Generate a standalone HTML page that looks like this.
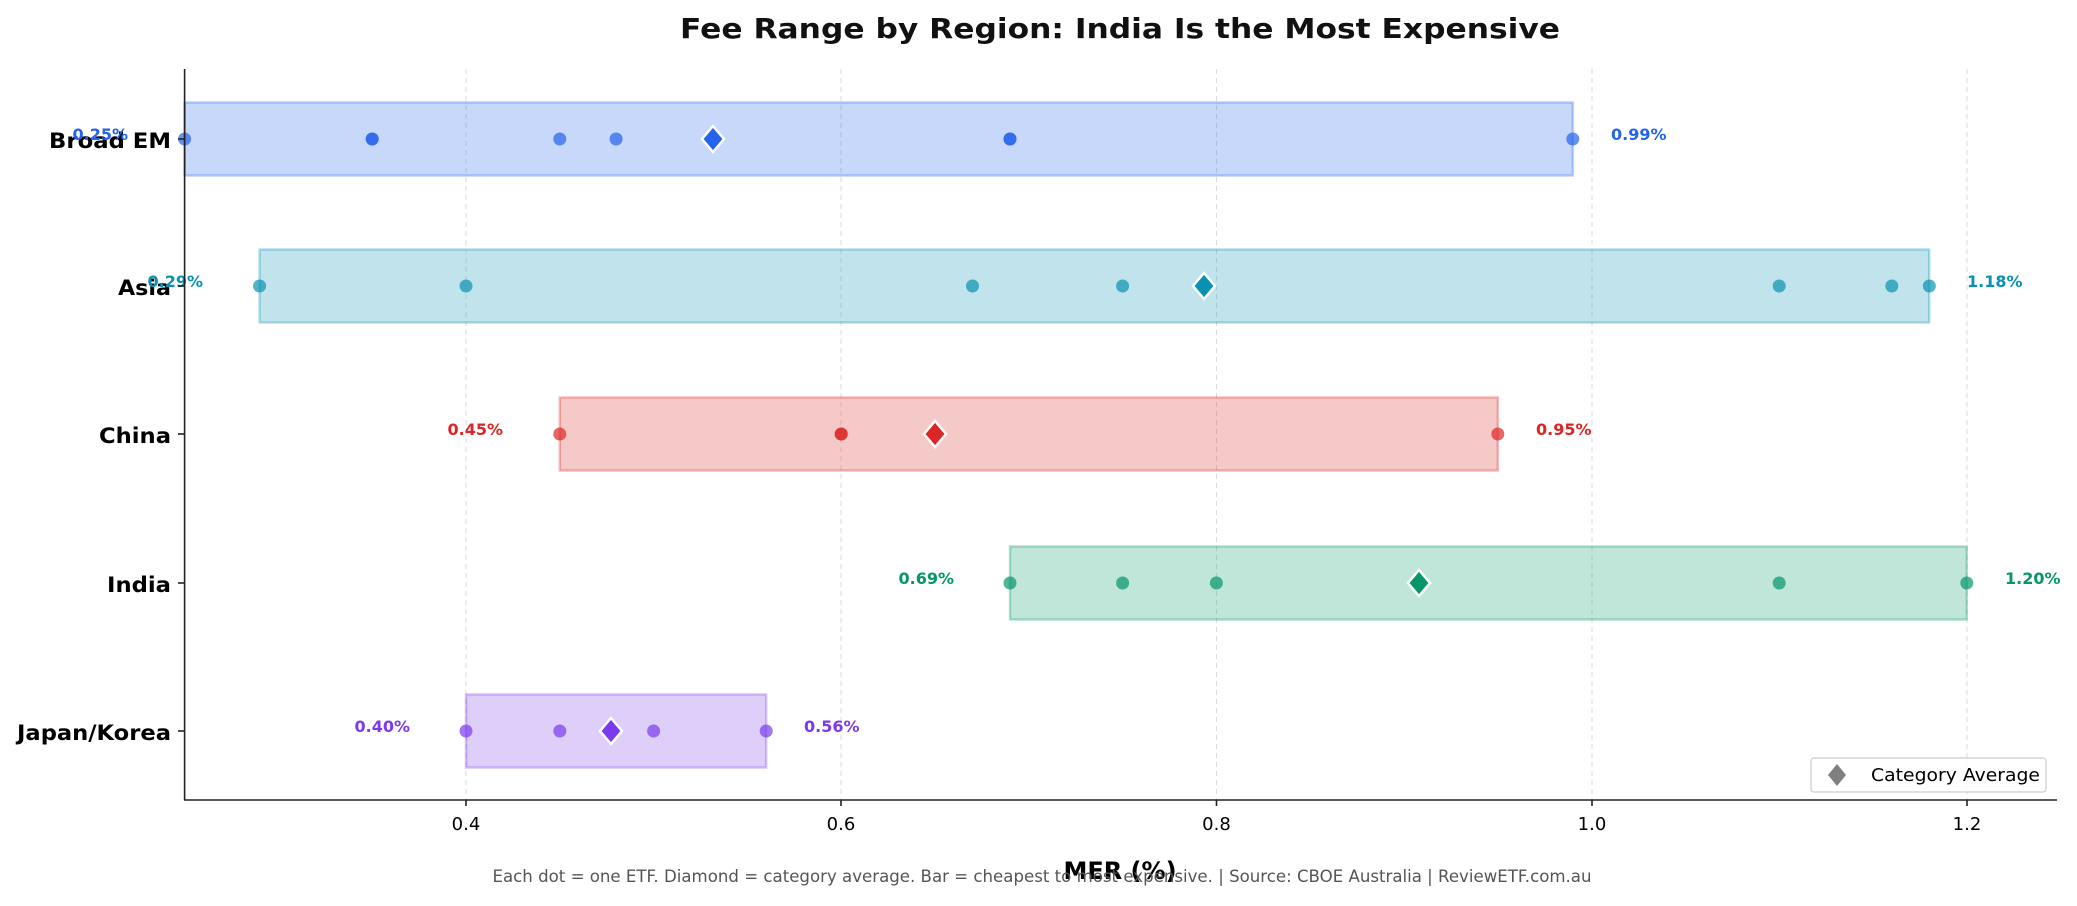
<!DOCTYPE html>
<html><head><meta charset="utf-8"><style>
body{margin:0;background:#fff;}
svg text{font-family:"DejaVu Sans","Liberation Sans",sans-serif;}
</style></head><body>
<svg width="2077" height="901" viewBox="0 0 2077 901" xmlns="http://www.w3.org/2000/svg">
<rect width="2077" height="901" fill="#fff"/>
<text x="1120" y="38" text-anchor="middle" font-size="28" font-weight="bold" fill="#111" textLength="880" lengthAdjust="spacingAndGlyphs">Fee Range by Region: India Is the Most Expensive</text>
<g stroke="#ccc" stroke-width="1" stroke-dasharray="5,4" opacity="0.7">
<line x1="466" y1="69" x2="466" y2="800"/><line x1="841" y1="69" x2="841" y2="800"/>
<line x1="1216.5" y1="69" x2="1216.5" y2="800"/><line x1="1592" y1="69" x2="1592" y2="800"/>
<line x1="1967" y1="69" x2="1967" y2="800"/>
</g>
<g stroke-width="2.5">
<rect x="184.6" y="102.5" width="1388.2" height="73" fill="#2563eb" fill-opacity="0.25" stroke="#2563eb" stroke-opacity="0.3"/>
<rect x="259.6" y="249.5" width="1669.6" height="73" fill="#0891b2" fill-opacity="0.25" stroke="#0891b2" stroke-opacity="0.3"/>
<rect x="559.8" y="397.5" width="938" height="73" fill="#dc2626" fill-opacity="0.25" stroke="#dc2626" stroke-opacity="0.3"/>
<rect x="1010" y="546.5" width="956.8" height="73" fill="#059669" fill-opacity="0.25" stroke="#059669" stroke-opacity="0.3"/>
<rect x="466" y="694.5" width="300.2" height="73" fill="#7c3aed" fill-opacity="0.25" stroke="#7c3aed" stroke-opacity="0.3"/>
</g>
<g fill="#2563eb" fill-opacity="0.7">
<circle cx="184.6" cy="139" r="6.5"/><circle cx="372.2" cy="139" r="6.5"/><circle cx="372.2" cy="139" r="6.5"/>
<circle cx="559.8" cy="139" r="6.5"/><circle cx="616.1" cy="139" r="6.5"/><circle cx="1010" cy="139" r="6.5"/><circle cx="1010" cy="139" r="6.5"/><circle cx="1572.8" cy="139" r="6.5"/>
</g>
<g fill="#0891b2" fill-opacity="0.7">
<circle cx="259.6" cy="286" r="6.5"/><circle cx="466" cy="286" r="6.5"/><circle cx="972.5" cy="286" r="6.5"/><circle cx="1122.6" cy="286" r="6.5"/>
<circle cx="1779.2" cy="286" r="6.5"/><circle cx="1891.8" cy="286" r="6.5"/><circle cx="1929.3" cy="286" r="6.5"/>
</g>
<g fill="#dc2626" fill-opacity="0.7">
<circle cx="559.8" cy="434" r="6.5"/><circle cx="841.2" cy="434" r="6.5"/><circle cx="841.2" cy="434" r="6.5"/><circle cx="1497.8" cy="434" r="6.5"/>
</g>
<g fill="#059669" fill-opacity="0.7">
<circle cx="1010" cy="583" r="6.5"/><circle cx="1122.6" cy="583" r="6.5"/><circle cx="1216.4" cy="583" r="6.5"/><circle cx="1779.2" cy="583" r="6.5"/><circle cx="1966.8" cy="583" r="6.5"/>
</g>
<g fill="#7c3aed" fill-opacity="0.7">
<circle cx="466" cy="731" r="6.5"/><circle cx="559.8" cy="731" r="6.5"/><circle cx="653.6" cy="731" r="6.5"/><circle cx="766.2" cy="731" r="6.5"/>
</g>
<g stroke="#fff" stroke-width="2.5">
<path d="M713 126 L724 139 L713 152 L702 139 Z" fill="#2563eb"/>
<path d="M1204 273 L1215 286 L1204 299 L1193 286 Z" fill="#0891b2"/>
<path d="M935 421 L946 434 L935 447 L924 434 Z" fill="#dc2626"/>
<path d="M1419 570 L1430 583 L1419 596 L1408 583 Z" fill="#059669"/>
<path d="M611 718 L622 731 L611 744 L600 731 Z" fill="#7c3aed"/>
</g>
<g font-size="21" font-weight="bold" fill="#000" text-anchor="end" lengthAdjust="spacingAndGlyphs">
<text x="171" y="148" textLength="122" lengthAdjust="spacingAndGlyphs">Broad EM</text>
<text x="171" y="295" textLength="53" lengthAdjust="spacingAndGlyphs">Asia</text>
<text x="171" y="443" textLength="72" lengthAdjust="spacingAndGlyphs">China</text>
<text x="171" y="592" textLength="64" lengthAdjust="spacingAndGlyphs">India</text>
<text x="171" y="740" textLength="154" lengthAdjust="spacingAndGlyphs">Japan/Korea</text>
</g>
<g font-size="16" font-weight="bold" text-anchor="end">
<text x="128" y="140" fill="#2563eb">0.25%</text><text x="203" y="287" fill="#0891b2">0.29%</text>
<text x="503" y="435" fill="#dc2626">0.45%</text><text x="954" y="584" fill="#059669">0.69%</text>
<text x="410" y="732" fill="#7c3aed">0.40%</text>
</g>
<g font-size="16" font-weight="bold">
<text x="1611" y="140" fill="#2563eb">0.99%</text><text x="1967" y="287" fill="#0891b2">1.18%</text>
<text x="1536" y="435" fill="#dc2626">0.95%</text><text x="2005" y="584" fill="#059669">1.20%</text>
<text x="804" y="732" fill="#7c3aed">0.56%</text>
</g>
<g stroke="#222" stroke-width="1.6">
<line x1="184.6" y1="69" x2="184.6" y2="800"/><line x1="184" y1="800" x2="2057" y2="800"/>
<line x1="466" y1="800" x2="466" y2="806"/><line x1="841" y1="800" x2="841" y2="806"/><line x1="1216.5" y1="800" x2="1216.5" y2="806"/><line x1="1592" y1="800" x2="1592" y2="806"/><line x1="1967" y1="800" x2="1967" y2="806"/>
<line x1="178" y1="139" x2="184.6" y2="139"/><line x1="178" y1="286" x2="184.6" y2="286"/><line x1="178" y1="434" x2="184.6" y2="434"/><line x1="178" y1="583" x2="184.6" y2="583"/><line x1="178" y1="731" x2="184.6" y2="731"/>
</g>
<g font-size="18" fill="#000" text-anchor="middle">
<text x="466" y="830">0.4</text><text x="841" y="830">0.6</text><text x="1216.5" y="830">0.8</text><text x="1592" y="830">1.0</text><text x="1967" y="830">1.2</text>
</g>
<text x="1120" y="879" text-anchor="middle" font-size="24" font-weight="bold" fill="#000">MER (%)</text>
<text x="1042" y="882" text-anchor="middle" font-size="16.5" fill="#555" textLength="1099" lengthAdjust="spacingAndGlyphs">Each dot = one ETF. Diamond = category average. Bar = cheapest to most expensive. | Source: CBOE Australia | ReviewETF.com.au</text>
<rect x="1811" y="758" width="235" height="34" rx="3" fill="#fff" fill-opacity="0.85" stroke="#ccc" stroke-width="1.2"/>
<path d="M1837 764 L1846 775 L1837 786 L1828 775 Z" fill="#808080"/>
<text x="1871" y="781" font-size="18" fill="#000" textLength="169" lengthAdjust="spacingAndGlyphs">Category Average</text>
</svg>
</body></html>
